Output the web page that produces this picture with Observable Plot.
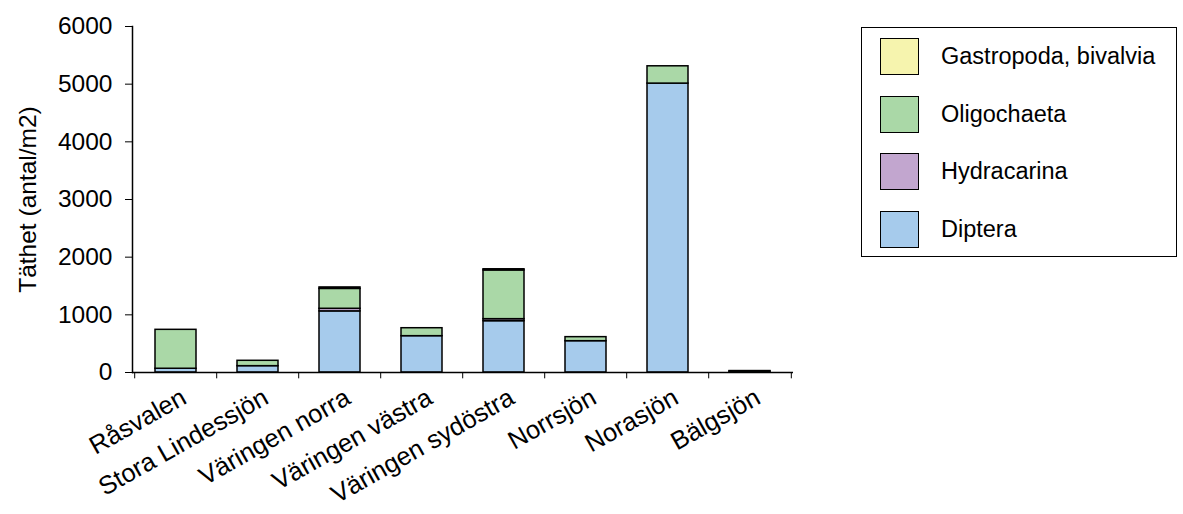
<!DOCTYPE html>
<html>
<head>
<meta charset="utf-8">
<script src="https://cdn.jsdelivr.net/npm/d3@7"></script>
<script src="https://cdn.jsdelivr.net/npm/@observablehq/plot@0.6"></script>
<style>
  body { margin: 0; background: #fff; font-family: "Liberation Sans", Arial, sans-serif; }
  #wrap { position: relative; width: 1183px; height: 514px; }
  #legend { position: absolute; left: 861px; top: 27px; width: 316px; height: 230px;
            border: 1px solid #000; box-sizing: border-box; }
  .item { position: absolute; left: 18px; height: 37px; display: flex; align-items: center; }
  .sw { width: 37px; height: 35px; border: 1px solid #000; margin-right: 22px; }
  .lbl { font-size: 23.5px; color: #000; }
</style>
</head>
<body>
<div id="wrap"><div id="legend"></div></div>
<script>
// Bottom-fauna density per lake (individuals per m²)
const lakes = ["Råsvalen", "Stora Lindessjön", "Väringen norra", "Väringen västra",
               "Väringen sydöstra", "Norrsjön", "Norasjön", "Bälgsjön"];
const taxa = ["Diptera", "Hydracarina", "Oligochaeta", "Gastropoda, bivalvia"];
const colors = ["#a6cbec", "#c2a6cf", "#aad8a7", "#f6f4ae"];

const diptera     = [65, 110, 1060, 630, 890, 543, 5010, 15];
const hydracarina = [0, 0, 45, 0, 35, 0, 0, 0];
const oligochaeta = [675, 93, 345, 138, 845, 70, 300, 10];
const gastropoda  = [0, 0, 25, 0, 20, 0, 0, 0];

const yTicks = [0, 1000, 2000, 3000, 4000, 5000, 6000];

const series = [diptera, hydracarina, oligochaeta, gastropoda];
const rows = [];
lakes.forEach((lake, i) => {
  series.forEach((vals, k) => rows.push({lake, taxon: taxa[k], value: vals[i]}));
});

const W = 1183, H = 514, mL = 132, mR = 390, mT = 26, mB = 142;
const step = (W - mL - mR) / lakes.length;

const chart = Plot.plot({
  width: W, height: H,
  marginLeft: mL, marginRight: mR, marginTop: mT, marginBottom: mB,
  style: {fontFamily: "'Liberation Sans', Arial, sans-serif", fontSize: "24px", color: "#000", background: "#fff"},
  x: {domain: lakes, paddingInner: 0.5, paddingOuter: 0.25},
  y: {domain: [0, 6000]},
  color: {domain: taxa, range: colors},
  marks: [
    Plot.barY(rows, Plot.stackY({
      x: "lake", y: "value", fill: "taxon", order: taxa,
      stroke: "#000", strokeWidth: 1.5
    })),
    Plot.ruleY([0], {stroke: "#000", strokeWidth: 1.5}),
    Plot.frame({anchor: "left", stroke: "#000", strokeWidth: 1.5}),
    // category boundary ticks below the baseline
    Plot.ruleX(lakes, {x: d => d, y1: 0, y2: -110, dx: -step / 2, stroke: "#000", strokeWidth: 1}),
    Plot.ruleX(lakes.slice(-1), {x: d => d, y1: 0, y2: -110, dx: step / 2, stroke: "#000", strokeWidth: 1}),
    Plot.axisY({ticks: yTicks, tickSize: 7, tickPadding: 13, tickFormat: d => String(d), fontSize: 24.5,
                label: "Täthet (antal/m2)", labelAnchor: "center", labelArrow: "none", labelOffset: 114}),
    Plot.axisX({tickSize: 0, tickRotate: -29.5, tickPadding: 14, fontSize: 25.5, label: null, dx: 8, dy: 9})
  ]
});
document.getElementById("wrap").prepend(chart);

// Legend: top taxon first
const legend = d3.select("#legend");
taxa.slice().reverse().forEach((t, i) => {
  const item = legend.append("div").attr("class", "item").style("top", (10 + i * 57.7) + "px");
  item.append("div").attr("class", "sw").style("background", colors[taxa.indexOf(t)]);
  item.append("div").attr("class", "lbl").text(t);
});
</script>
</body>
</html>
